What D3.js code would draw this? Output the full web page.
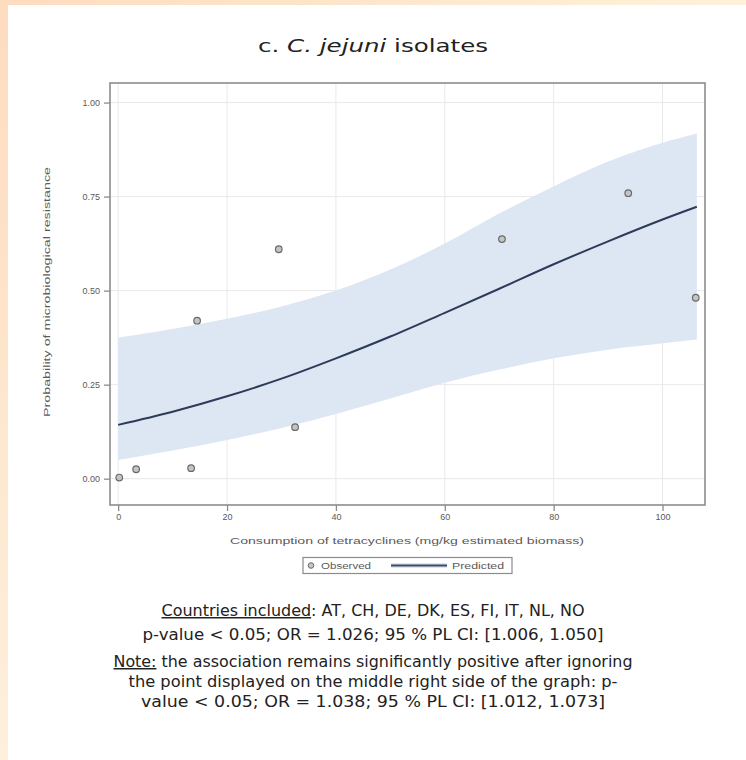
<!DOCTYPE html>
<html>
<head>
<meta charset="utf-8">
<script src="https://cdn.jsdelivr.net/npm/d3@7"></script>
<style>
html,body{margin:0;padding:0;background:#fff;}
svg{display:block;}
</style>
</head>
<body>
<div id="chart"></div>
<script>
// ---- data ----
const obsX = [0.2, 3.3, 13.4, 14.5, 29.5, 32.5, 70.5, 93.7, 106.1];
const obsY = [0.003, 0.025, 0.028, 0.42, 0.61, 0.137, 0.637, 0.759, 0.481];
const predX = [0, 10, 20, 30, 40, 50, 60, 70, 80, 90, 100, 106.3];
const predY = [0.143, 0.178, 0.219, 0.266, 0.320, 0.378, 0.441, 0.505, 0.570, 0.631, 0.689, 0.723];
const lowerCL = [0.050, 0.075, 0.103, 0.135, 0.172, 0.213, 0.255, 0.290, 0.320, 0.343, 0.360, 0.370];
const upperCL = [0.375, 0.398, 0.425, 0.458, 0.500, 0.556, 0.625, 0.705, 0.777, 0.843, 0.893, 0.918];
const xTicks = [0, 20, 40, 60, 80, 100];
const yTicks = [0, 0.25, 0.5, 0.75, 1.0];
const xTitle = "Consumption of tetracyclines (mg/kg estimated biomass)";
const yTitle = "Probability of microbiological resistance";
const legendLabels = ["Observed", "Predicted"];

(function(){
const W = 746, H = 760;
const svg = d3.select("#chart").append("svg").attr("width", W).attr("height", H);
const defs = svg.append("defs");

// page border strips
const gT = defs.append("linearGradient").attr("id","gTop").attr("x1","0").attr("x2","1").attr("y1","0").attr("y2","0");
gT.append("stop").attr("offset","0").attr("stop-color","#fddcbf");
gT.append("stop").attr("offset","1").attr("stop-color","#fef2d9");
const gL = defs.append("linearGradient").attr("id","gLeft").attr("x1","0").attr("x2","0").attr("y1","0").attr("y2","1");
gL.append("stop").attr("offset","0").attr("stop-color","#fddcbf");
gL.append("stop").attr("offset","1").attr("stop-color","#fdf0dc");
svg.append("rect").attr("x",0).attr("y",0).attr("width",W).attr("height",5).attr("fill","url(#gTop)");
svg.append("rect").attr("x",0).attr("y",0).attr("width",8).attr("height",H).attr("fill","url(#gLeft)");

// title
const title = svg.append("text").attr("x", 373).attr("y", 52).attr("text-anchor","middle")
  .attr("font-family","DejaVu Sans, Verdana, sans-serif").attr("font-size", 18).attr("fill","#222")
  .attr("textLength", 230).attr("lengthAdjust","spacingAndGlyphs");
title.append("tspan").text("c. ");
title.append("tspan").attr("font-style","italic").text("C. jejuni");
title.append("tspan").text(" isolates");

// plot area
const pL = 110, pR = 705, pT = 83, pB = 505;
const x = d3.scaleLinear().domain([-1.5, 107.8]).range([pL, pR]);
const y = d3.scaleLinear().domain([-0.07, 1.052]).range([pB, pT]);

const g = svg.append("g");
g.append("rect").attr("x",pL).attr("y",pT).attr("width",pR-pL).attr("height",pB-pT).attr("fill","#fff");

// grid
g.selectAll("line.vg").data(xTicks).join("line").attr("class","vg")
  .attr("x1",d=>x(d)).attr("x2",d=>x(d)).attr("y1",pT).attr("y2",pB)
  .attr("stroke","#e9e9e9").attr("stroke-width",1);
g.selectAll("line.hg").data(yTicks).join("line").attr("class","hg")
  .attr("x1",pL).attr("x2",pR).attr("y1",d=>y(d)).attr("y2",d=>y(d))
  .attr("stroke","#e9e9e9").attr("stroke-width",1);

// confidence band
const bandData = predX.map((v,i)=>({x:v, lo:lowerCL[i], hi:upperCL[i], p:predY[i]}));
const area = d3.area().x(d=>x(d.x)).y0(d=>y(d.lo)).y1(d=>y(d.hi)).curve(d3.curveCatmullRom);
g.append("path").datum(bandData).attr("d", area).attr("fill","#dde6f3");

// predicted line
const line = d3.line().x(d=>x(d.x)).y(d=>y(d.p)).curve(d3.curveCatmullRom);
g.append("path").datum(bandData).attr("d", line).attr("fill","none")
  .attr("stroke","#2c3b58").attr("stroke-width",2);

// observed points
const obs = obsX.map((v,i)=>({x:v, y:obsY[i]}));
g.selectAll("circle.obs").data(obs).join("circle").attr("class","obs")
  .attr("cx",d=>x(d.x)).attr("cy",d=>y(d.y)).attr("r",3.3)
  .attr("fill","#c4c4c4").attr("stroke","#6a6a6a").attr("stroke-width",1.2);

// frame
g.append("rect").attr("x",pL).attr("y",pT).attr("width",pR-pL).attr("height",pB-pT)
  .attr("fill","none").attr("stroke","#8c8c8c").attr("stroke-width",1.6);

// axes
const axFont = "Liberation Sans, Arial, sans-serif";
const xAxis = svg.append("g").attr("transform",`translate(0,${pB})`)
  .call(d3.axisBottom(x).tickValues(xTicks).tickSize(6).tickPadding(3).tickFormat(d3.format("d")));
const yAxis = svg.append("g").attr("transform",`translate(${pL},0)`)
  .call(d3.axisLeft(y).tickValues(yTicks).tickSize(6).tickPadding(4).tickFormat(d3.format(".2f")));
[xAxis, yAxis].forEach(a=>{
  a.select(".domain").remove();
  a.selectAll(".tick line").attr("stroke","#8c8c8c").attr("stroke-width",1.3);
  a.selectAll(".tick text").attr("fill","#5a5a5a").attr("font-family",axFont).attr("font-size",9);
});

svg.append("text").attr("x",407).attr("y",544).attr("text-anchor","middle")
  .attr("font-family",axFont).attr("font-size",9.5).attr("fill","#5a5a5a")
  .attr("textLength",354).attr("lengthAdjust","spacingAndGlyphs").text(xTitle);
svg.append("text").attr("transform","translate(50,292) rotate(-90)").attr("text-anchor","middle")
  .attr("font-family",axFont).attr("font-size",9.5).attr("fill","#5a5a5a")
  .attr("textLength",250).attr("lengthAdjust","spacingAndGlyphs").text(yTitle);

// legend
const lg = svg.append("g");
lg.append("rect").attr("x",303).attr("y",557.5).attr("width",209).attr("height",16)
  .attr("fill","#fff").attr("stroke","#8c8c8c").attr("stroke-width",1.2);
lg.append("circle").attr("cx",311).attr("cy",565.5).attr("r",2.8)
  .attr("fill","#c4c4c4").attr("stroke","#6a6a6a").attr("stroke-width",1);
lg.append("text").attr("x",321).attr("y",569).attr("font-family",axFont).attr("font-size",8.5).attr("fill","#5a5a5a")
  .attr("textLength",50).attr("lengthAdjust","spacingAndGlyphs").text(legendLabels[0]);
lg.append("rect").attr("x",391).attr("y",563).attr("width",56).attr("height",5).attr("fill","#dde6f3");
lg.append("line").attr("x1",391).attr("x2",447).attr("y1",565.5).attr("y2",565.5).attr("stroke","#3a4a68").attr("stroke-width",1.8);
lg.append("text").attr("x",452).attr("y",569).attr("font-family",axFont).attr("font-size",8.5).attr("fill","#5a5a5a")
  .attr("textLength",52).attr("lengthAdjust","spacingAndGlyphs").text(legendLabels[1]);

// notes below
const nFont = "DejaVu Sans, Verdana, sans-serif";
function note(yy, len, parts){
  const t = svg.append("text").attr("x",373).attr("y",yy).attr("text-anchor","middle")
    .attr("font-family",nFont).attr("font-size",15).attr("fill","#222")
    .attr("textLength",len).attr("lengthAdjust","spacingAndGlyphs");
  parts.forEach(p=>{
    const s = t.append("tspan").text(p.t);
    if(p.u) s.attr("text-decoration","underline");
  });
}
note(616, 423, [{t:"Countries included",u:true},{t:": AT, CH, DE, DK, ES, FI, IT, NL, NO"}]);
note(640, 461, [{t:"p-value < 0.05; OR = 1.026; 95 % PL CI: [1.006, 1.050]"}]);
note(667, 519, [{t:"Note:",u:true},{t:" the association remains significantly positive after ignoring"}]);
note(687, 489, [{t:"the point displayed on the middle right side of the graph: p-"}]);
note(707, 464, [{t:"value < 0.05; OR = 1.038; 95 % PL CI: [1.012, 1.073]"}]);
})();
</script>
</body>
</html>
